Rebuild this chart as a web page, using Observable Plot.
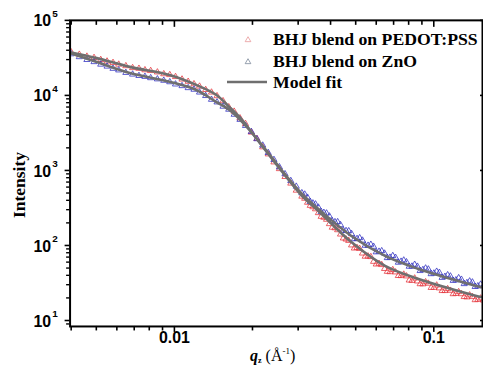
<!DOCTYPE html>
<html><head><meta charset="utf-8">
<script src="https://cdn.jsdelivr.net/npm/d3@7"></script>
<script src="https://cdn.jsdelivr.net/npm/@observablehq/plot@0.6"></script>
<style>
html,body{margin:0;padding:0;overflow:hidden;background:#fff;}
#wrap{position:relative;width:483px;height:365px;overflow:hidden;}
#wrap svg.over{position:absolute;left:0;top:0;pointer-events:none;}
</style></head><body><div id="wrap"></div>
<script>
// Measured data (q in 1/Å, intensity)
const qData = [0.0040,0.0043,0.0046,0.0049,0.0052,0.0055,0.0058,0.0061,0.0065,0.0069,0.0073,0.0077,0.0081,0.0086,0.0091,0.0096,0.0101,0.0107,0.0113,0.0119,0.0125,0.0132,0.0139,0.0146,0.0154,0.0162,0.0170,0.0179,0.0188,0.0198,0.0208,0.0219,0.0230,0.0242,0.0254,0.0267,0.0281,0.0295,0.0310,0.0326,0.0342,0.0359,0.0377,0.0396,0.0416,0.0437,0.0459,0.0482,0.0506,0.0531,0.0558,0.0586,0.0615,0.0646,0.0678,0.0712,0.0748,0.0785,0.0824,0.0865,0.0908,0.0953,0.1001,0.1051,0.1104,0.1159,0.1217,0.1278,0.1342,0.1409,0.1479,0.1553];
const iPedot = [37700,35100,33100,31800,29900,28500,27300,25900,24700,23300,22800,21800,21300,20400,19300,18800,17700,16400,15300,14200,13200,11900,11000,9840,8430,7000,6110,4990,4190,3220,2650,2050,1650,1290,1050,824,673,542,451,374,326,272,236,194,171,141,121,101,93.3,78.7,71.9,61.0,57.4,49.0,44.4,44.1,39.4,39.0,34.0,33.4,30.6,31.2,27.5,27.0,24.9,25.1,22.8,22.6,20.5,20.7,19.0,18.6];
const iZnO = [35600,32600,29900,28000,25900,24400,22800,21700,20100,19100,18300,17800,17100,16500,15800,15100,14100,13400,12600,12000,11000,9890,8810,8130,7130,6500,5570,4760,3950,3280,2630,2160,1720,1390,1110,897,728,612,501,436,366,322,274,245,206,188,157,143,123,117,100,96.8,83.2,78.5,69.2,69.0,61.2,60.1,52.7,52.5,47.5,48.2,42.6,43.5,38.5,38.9,34.6,35.2,31.8,32.4,28.8,28.9];
// Additional measured points in the noisy high-q band
const qData2 = [0.0318,0.0334,0.0350,0.0368,0.0386,0.0406,0.0426,0.0448,0.0470,0.0494,0.0518,0.0544,0.0572,0.0600,0.0630,0.0662,0.0695,0.0730,0.0766,0.0804,0.0844,0.0886,0.0930,0.0977,0.1026,0.1077,0.1131,0.1188,0.1247,0.1310,0.1375,0.1444,0.1516];
const iPedot2 = [423,340,306,243,222,174,161,125,116,91.8,90.6,71.4,70.6,56.2,55.3,44.9,47.4,39.5,41.2,34.4,36.6,30.7,32.6,27.4,29.5,24.9,26.4,22.6,24.1,20.7,21.8,18.8,19.8];
const iZnO2 = [481,383,355,281,269,211,206,159,156,122,126,100,103,81.7,84.5,68.4,72.9,59.4,63.5,52.5,55.7,46.0,49.7,41.8,45.0,37.3,40.4,34.0,36.9,30.8,33.4,28.2,30.3];
// Model fit curves
const qFit = [0.00396,0.00502,0.00673,0.00957,0.01214,0.01448,0.01625,0.01823,0.0199,0.0231,0.0269,0.0309,0.0360,0.0481,0.0649,0.0868,0.116,0.150,0.156];
const iFitPedot = [37700,31400,24000,18700,13800,10200,7050,4730,3180,1630,834,467,286,111,53.5,36.0,26.5,20.8,20.2];
const iFitZnO = [36600,27800,19900,15200,11800,8200,6430,4460,3180,1680,859,495,304,134,72.6,48.9,36.0,28.2,27.6];
// Axis ticks and labels
const xMajor = [0.01, 0.1];
const xMajorLabels = ["0.01", "0.1"];
const xMinor = [0.004,0.005,0.006,0.007,0.008,0.009,0.02,0.03,0.04,0.05,0.06,0.07,0.08,0.09];
const yMajor = [10,100,1000,10000,100000];
const yExpLabels = ["1","2","3","4","5"];
const yMinor = [9,20,30,40,50,60,70,80,90,200,300,400,500,600,700,800,900,2000,3000,4000,5000,6000,7000,8000,9000,20000,30000,40000,50000,60000,70000,80000,90000];
const seriesNames = ["BHJ blend on PEDOT:PSS", "BHJ blend on ZnO", "Model fit"];

const red = "#e5333b", blue = "#2b2bbf", fitGray = "#6f6f6f";
const pedot = qData.map((q,i)=>({q, I:iPedot[i]})).concat(qData2.map((q,i)=>({q, I:iPedot2[i]})));
const zno = qData.map((q,i)=>({q, I:iZnO[i]})).concat(qData2.map((q,i)=>({q, I:iZnO2[i]})));
const fitP = qFit.map((q,i)=>({q, I:iFitPedot[i]}));
const fitZ = qFit.map((q,i)=>({q, I:iFitZnO[i]}));
const sans = "Liberation Sans, Arial, sans-serif";
const noText = () => "";

const chart = Plot.plot({
  width: 486, height: 365,
  marginLeft: 70, marginRight: 1, marginTop: 20, marginBottom: 37,
  style: {background: "#fff", overflow: "visible"},
  x: {type: "log", domain: [0.003961, 0.1541]},
  y: {type: "log", domain: [8.33, 100000]},
  marks: [
    Plot.dot(pedot, {x:"q", y:"I", symbol:"triangle", r:2.3, fill:"none", stroke:red, strokeWidth:0.85, strokeOpacity:0.9, clip:true}),
    Plot.dot(zno, {x:"q", y:"I", symbol:"triangle", r:2.3, fill:"none", stroke:blue, strokeWidth:0.85, strokeOpacity:0.9, clip:true}),
    Plot.line(fitP, {x:"q", y:"I", stroke:fitGray, strokeWidth:2.6, curve:"catmull-rom", clip:true}),
    Plot.line(fitZ, {x:"q", y:"I", stroke:fitGray, strokeWidth:2.6, curve:"catmull-rom", clip:true}),
    Plot.frame({stroke:"#000", strokeWidth:2}),
    Plot.axisX({ticks:xMajor, tickSize:6, tickFormat:noText, label:null, strokeWidth:1.6}),
    Plot.axisX({ticks:xMinor, tickSize:4.5, tickFormat:noText, label:null, strokeWidth:1.6}),
    Plot.axisX({anchor:"top", ticks:xMajor, tickSize:6, dy:6, tickFormat:noText, label:null, strokeWidth:1.6}),
    Plot.axisX({anchor:"top", ticks:xMinor, tickSize:4, dy:4, tickFormat:noText, label:null, strokeWidth:1.6}),
    Plot.axisY({ticks:yMajor, tickSize:5, tickFormat:noText, label:null, strokeWidth:1.6}),
    Plot.axisY({ticks:yMinor, tickSize:3.5, tickFormat:noText, label:null, strokeWidth:1.4}),
    Plot.axisY({anchor:"right", ticks:yMajor, tickSize:3, dx:-3, tickFormat:noText, label:null, strokeWidth:1.6}),
    Plot.text(yMajor, {y:d=>d, frameAnchor:"left", text:()=>"10", textAnchor:"end", dx:-19, dy:1, fontSize:16, fontWeight:"bold", fontFamily:sans, fill:"#000"}),
    Plot.text(yMajor, {y:d=>d, frameAnchor:"left", text:(d,i)=>yExpLabels[i], textAnchor:"start", dx:-18, dy:-7, fontSize:10, fontWeight:"bold", fontFamily:sans, fill:"#000"}),
    Plot.text(xMajor, {x:d=>d, frameAnchor:"bottom", text:(d,i)=>xMajorLabels[i], dy:17, fontSize:16, fontWeight:"bold", fontFamily:sans, fill:"#000"})
  ]
});
const wrap = document.getElementById("wrap");
wrap.appendChild(chart);

// Legend and axis titles overlay
const serif = "Liberation Serif, Times New Roman, serif";
const over = d3.select(wrap).append("svg").attr("class","over").attr("width",483).attr("height",365);
const legRows = [45, 67, 88];
const legColors = ["#e89a9c", "#7e8a9c"];
const tri = d3.symbol(d3.symbolTriangle, 14)();
[0,1].forEach(k => {
  over.append("path").attr("d", tri).attr("transform", `translate(248,${legRows[k]-5})`)
    .attr("fill","none").attr("stroke", legColors[k]).attr("stroke-width",0.8);
});
over.append("line").attr("x1",227).attr("x2",267).attr("y1",legRows[2]-6).attr("y2",legRows[2]-6)
  .attr("stroke",fitGray).attr("stroke-width",2.6);
seriesNames.forEach((s,k) => {
  over.append("text").attr("x",273).attr("y",legRows[k]).attr("font-family",serif)
    .attr("font-weight","bold").attr("font-size",17.7).attr("fill","#000").text(s);
});
// y title
over.append("text").attr("transform","translate(25,185) rotate(-90)").attr("text-anchor","middle")
  .attr("font-family",serif).attr("font-weight","bold").attr("font-size",17.5).attr("fill","#000").text("Intensity");
// x title
const xt = over.append("text").attr("x",250).attr("y",361).attr("font-family",serif)
  .attr("font-weight","bold").attr("font-size",16).attr("fill","#000");
xt.append("tspan").attr("font-style","italic").text("q");
xt.append("tspan").attr("font-size",8).attr("dy",2).text("z");
xt.append("tspan").attr("dy",-2).attr("font-weight","normal").text(" (Å");
xt.append("tspan").attr("font-size",9).attr("dy",-7).attr("font-weight","normal").text("-1");
xt.append("tspan").attr("dy",7).attr("font-weight","normal").text(")");
</script></body></html>
